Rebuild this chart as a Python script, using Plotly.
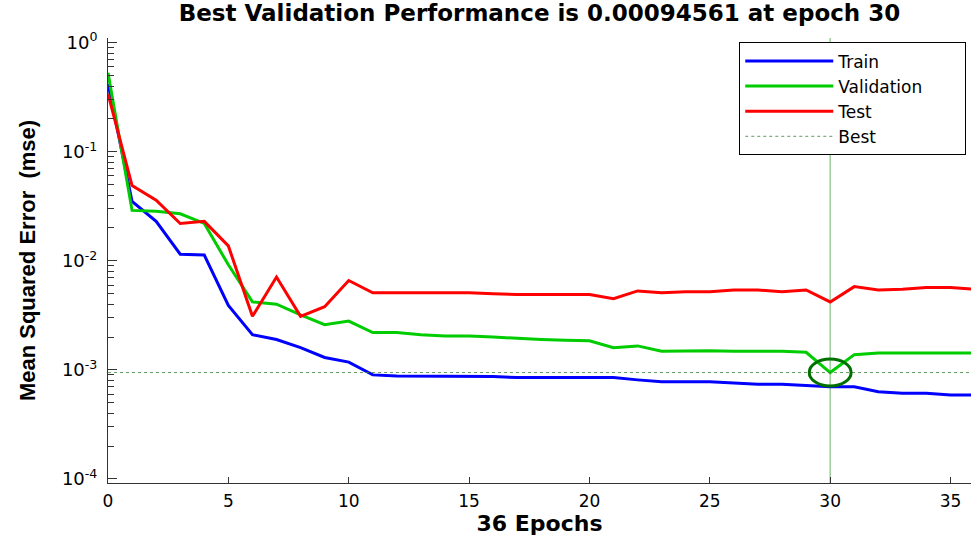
import plotly.graph_objects as go

epochs = list(range(0, 37))
train = [0.42, 0.035, 0.023, 0.0115, 0.0113, 0.0039, 0.0021, 0.0019, 0.0016, 0.0013,
         0.00118, 0.00090, 0.00088, 0.00088, 0.00088, 0.00088, 0.00087, 0.00085, 0.00085, 0.00085,
         0.00085, 0.00085, 0.00081, 0.00078, 0.00078, 0.00078, 0.00076, 0.00074, 0.00074, 0.00072,
         0.00070, 0.00070, 0.00063, 0.00061, 0.00061, 0.00059, 0.00059]
validation = [0.53, 0.029, 0.0285, 0.027, 0.022, 0.0092, 0.0042, 0.0040, 0.0032, 0.0026,
              0.0028, 0.0022, 0.0022, 0.0021, 0.00205, 0.00205, 0.0020, 0.00194, 0.0019, 0.00187,
              0.00185, 0.0016, 0.00166, 0.00148, 0.0015, 0.0015, 0.00148, 0.00148, 0.00148, 0.00145,
              0.00094561, 0.00138, 0.00143, 0.00143, 0.00143, 0.00143, 0.00143]
test = [0.34, 0.049, 0.036, 0.022, 0.023, 0.0137, 0.0031, 0.0071, 0.0031, 0.0038,
        0.0066, 0.0051, 0.0051, 0.0051, 0.0051, 0.0051, 0.0050, 0.0049, 0.0049, 0.0049,
        0.0049, 0.0045, 0.0053, 0.0051, 0.0052, 0.0052, 0.0054, 0.0054, 0.0052, 0.0054,
        0.0042, 0.0058, 0.0054, 0.0055, 0.0057, 0.0057, 0.0055]

best_epoch = 30
best_value = 0.00094561

ytick_vals = [1e-4, 1e-3, 1e-2, 1e-1, 1]
ytick_text = ["10<sup>-4</sup>", "10<sup>-3</sup>", "10<sup>-2</sup>", "10<sup>-1</sup>", "10<sup>0</sup>"]
yminor_vals = [m * 10 ** e for e in range(-4, 0) for m in range(2, 10)]
xtick_vals = [0, 5, 10, 15, 20, 25, 30, 35]
legend_names = ["Train", "Validation", "Test", "Best"]

title_text = "Best Validation Performance is 0.00094561 at epoch 30"
pad = "\u00a0" * 7

fig = go.Figure()
fig.add_trace(go.Scatter(x=epochs, y=train, mode="lines", name=legend_names[0],
                         line=dict(color="#0000FF", width=3)))
fig.add_trace(go.Scatter(x=epochs, y=validation, mode="lines", name=legend_names[1] + pad,
                         line=dict(color="#00CC00", width=3)))
fig.add_trace(go.Scatter(x=epochs, y=test, mode="lines", name=legend_names[2],
                         line=dict(color="#FF0000", width=3)))
fig.add_trace(go.Scatter(x=[epochs[0], epochs[-1]], y=[best_value, best_value], mode="lines",
                         name=legend_names[3], line=dict(color="rgba(60,130,60,0.8)", width=1, dash="dot")))

# vertical best-epoch line
fig.add_shape(type="line", xref="x", yref="paper", x0=best_epoch, x1=best_epoch, y0=0, y1=1,
              line=dict(color="rgba(0,128,0,0.4)", width=1.5), layer="below")
# best point ellipse (half-width 0.87 epoch, half-height 0.124 decade)
hw, hh = 0.87, 0.124
fig.add_shape(type="circle", xref="x", yref="y",
              x0=best_epoch - hw, x1=best_epoch + hw,
              y0=best_value * 10 ** (-hh), y1=best_value * 10 ** hh,
              line=dict(color="#007000", width=3))

fig.update_layout(
    width=971, height=537,
    margin=dict(l=108, r=0, t=38, b=54),
    paper_bgcolor="white", plot_bgcolor="white",
    title=dict(text="<b>" + title_text + "</b>", x=0.5, xref="paper", xanchor="center",
               y=0.975, yref="container", yanchor="middle",
               font=dict(family="DejaVu Sans", size=23, color="black")),
    showlegend=True,
    legend=dict(x=0.9945, xanchor="right", y=0.99, yanchor="top",
                bgcolor="white", bordercolor="black", borderwidth=1,
                font=dict(family="DejaVu Sans", size=17, color="black"),
                itemwidth=88, tracegroupgap=0),
)

fig.update_xaxes(
    range=[0, 35.85], showgrid=False, zeroline=False,
    showline=True, linecolor="#333333", linewidth=1,
    ticks="inside", ticklen=6, tickcolor="#333333",
    tickvals=xtick_vals,
    tickfont=dict(family="DejaVu Sans", size=17, color="black"),
    ticklabelstandoff=3,
    title=dict(text="<b>36 Epochs</b>", standoff=0,
               font=dict(family="DejaVu Sans", size=22, color="black")),
)
fig.update_yaxes(
    type="log", range=[-4.037, 0.043], showgrid=False, zeroline=False,
    showline=True, linecolor="#333333", linewidth=1,
    ticks="inside", ticklen=9, tickcolor="#333333",
    tickvals=ytick_vals, ticktext=ytick_text,
    tickfont=dict(family="DejaVu Sans", size=18, color="black"),
    ticklabelstandoff=6,
    minor=dict(tickvals=yminor_vals, ticks="inside", ticklen=6, tickcolor="#333333", showgrid=False),
    title=dict(text="<b>Mean Squared Error\u00a0 (mse)</b>", standoff=20,
               font=dict(family="Liberation Sans", size=22, color="black")),
)

fig.write_html("out.html")
